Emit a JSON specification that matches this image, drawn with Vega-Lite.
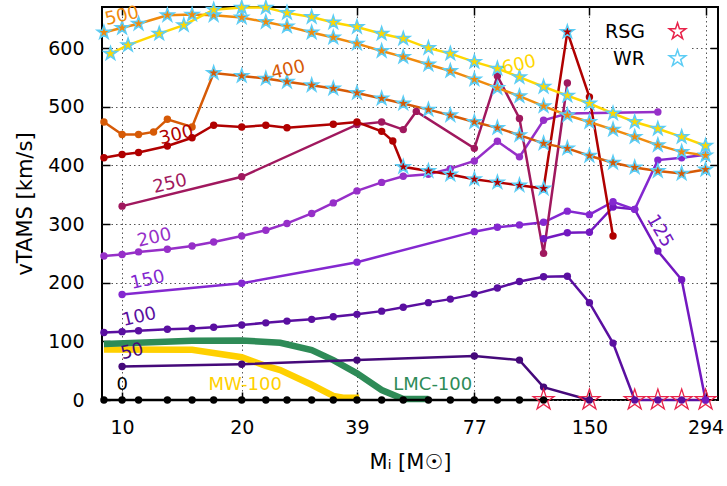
{
 "$schema": "https://vega.github.io/schema/vega-lite/v6.json",
 "width": 616, "height": 393,
 "autosize": {"type": "none"},
 "padding": {"left": 102, "top": 7, "right": 9, "bottom": 86},
 "config": {
  "font": "DejaVu Sans",
  "view": {"stroke": "#000", "strokeWidth": 2},
  "axis": {"labelFontSize": 19, "labelColor": "#000", "titleFontSize": 21, "titleFontWeight": "normal", "titleColor": "#000",
           "gridDash": [1.5, 3], "gridColor": "#555", "gridWidth": 1, "tickSize": -8, "tickColor": "#000", "tickWidth": 1.5, "domain": false, "labelPadding": 26}
 },
 "datasets": {
  "pts": [
   {"s":"0","m":9,"v":0},{"s":"0","m":10,"v":0},{"s":"0","m":11,"v":0},{"s":"0","m":13,"v":0},{"s":"0","m":15,"v":0},{"s":"0","m":17,"v":0},{"s":"0","m":20,"v":0},{"s":"0","m":23,"v":0},{"s":"0","m":26,"v":0},{"s":"0","m":30,"v":0},{"s":"0","m":34,"v":0},{"s":"0","m":39,"v":0},{"s":"0","m":45,"v":0},{"s":"0","m":51,"v":0},{"s":"0","m":59,"v":0},{"s":"0","m":67,"v":0},{"s":"0","m":77,"v":0},{"s":"0","m":88,"v":0},{"s":"0","m":100,"v":0},{"s":"0","m":115,"v":0,"t":"RSG"},
   {"s":"50","m":10,"v":57},{"s":"50","m":20,"v":61},{"s":"50","m":39,"v":68},{"s":"50","m":77,"v":75},{"s":"50","m":100,"v":68},{"s":"50","m":115,"v":22},{"s":"50","m":150,"v":0,"t":"RSG"},
   {"s":"100","m":9,"v":115},{"s":"100","m":10,"v":116.5},{"s":"100","m":11,"v":118},{"s":"100","m":13,"v":120.5},{"s":"100","m":15,"v":122},{"s":"100","m":17,"v":124},{"s":"100","m":20,"v":128},{"s":"100","m":23,"v":131.5},{"s":"100","m":26,"v":134.5},{"s":"100","m":30,"v":137.5},{"s":"100","m":34,"v":142},{"s":"100","m":39,"v":146},{"s":"100","m":45,"v":151.5},{"s":"100","m":51,"v":158},{"s":"100","m":59,"v":166},{"s":"100","m":67,"v":172},{"s":"100","m":77,"v":180.5},{"s":"100","m":88,"v":191},{"s":"100","m":100,"v":202},{"s":"100","m":115,"v":210},{"s":"100","m":132,"v":211},{"s":"100","m":150,"v":166},{"s":"100","m":172,"v":97},{"s":"100","m":195,"v":0,"t":"RSG"},{"s":"100","m":223,"v":0,"t":"RSG"},{"s":"100","m":256,"v":0,"t":"RSG"},{"s":"100","m":294,"v":0,"t":"RSG"},
   {"s":"125","m":115,"v":275},{"s":"125","m":132,"v":285},{"s":"125","m":150,"v":286},{"s":"125","m":172,"v":329},{"s":"125","m":195,"v":325},{"s":"125","m":223,"v":254},{"s":"125","m":256,"v":205},{"s":"125","m":294,"v":0},
   {"s":"150","m":10,"v":180},{"s":"150","m":20,"v":199},{"s":"150","m":39,"v":235},{"s":"150","m":77,"v":287},{"s":"150","m":88,"v":294.5},{"s":"150","m":100,"v":298.5},{"s":"150","m":115,"v":303},{"s":"150","m":132,"v":322},{"s":"150","m":150,"v":316},{"s":"150","m":172,"v":338},{"s":"150","m":195,"v":325},{"s":"150","m":223,"v":409},{"s":"150","m":256,"v":413},{"s":"150","m":294,"v":418},
   {"s":"200","m":9,"v":245.5},{"s":"200","m":10,"v":248},{"s":"200","m":11,"v":252.5},{"s":"200","m":13,"v":257},{"s":"200","m":15,"v":262.5},{"s":"200","m":17,"v":269.5},{"s":"200","m":20,"v":279.5},{"s":"200","m":23,"v":289.5},{"s":"200","m":26,"v":301},{"s":"200","m":30,"v":318},{"s":"200","m":34,"v":336},{"s":"200","m":39,"v":356.5},{"s":"200","m":45,"v":371},{"s":"200","m":51,"v":381.5},{"s":"200","m":59,"v":385},{"s":"200","m":67,"v":394.5},{"s":"200","m":77,"v":407.5},{"s":"200","m":88,"v":441},{"s":"200","m":100,"v":414.5},{"s":"200","m":115,"v":477},{"s":"200","m":132,"v":488.5},{"s":"200","m":223,"v":491},
   {"s":"250","m":10,"v":330.5},{"s":"250","m":20,"v":380.5},{"s":"250","m":39,"v":469.5},{"s":"250","m":45,"v":474},{"s":"250","m":51,"v":461},{"s":"250","m":55,"v":492},{"s":"250","m":77,"v":429},{"s":"250","m":88,"v":552.5},{"s":"250","m":100,"v":480},{"s":"250","m":115,"v":250},{"s":"250","m":132,"v":540.5},
   {"s":"300","m":9,"v":413},{"s":"300","m":10,"v":418.5},{"s":"300","m":11,"v":422},{"s":"300","m":13,"v":433},{"s":"300","m":15,"v":447},{"s":"300","m":17,"v":468.5},{"s":"300","m":20,"v":465.5},{"s":"300","m":23,"v":468.5},{"s":"300","m":26,"v":464},{"s":"300","m":34,"v":470},{"s":"300","m":39,"v":474},{"s":"300","m":45,"v":458},{"s":"300","m":48,"v":441.5},{"s":"300","m":51,"v":397.5,"t":"WR"},{"s":"300","m":59,"v":390.5,"t":"WR"},{"s":"300","m":67,"v":384.5,"t":"WR"},{"s":"300","m":77,"v":376.5,"t":"WR"},{"s":"300","m":88,"v":371,"t":"WR"},{"s":"300","m":100,"v":366,"t":"WR"},{"s":"300","m":115,"v":360.5,"t":"WR"},{"s":"300","m":132,"v":627.5,"t":"WR"},{"s":"300","m":150,"v":516.5},{"s":"300","m":172,"v":279.5},
   {"s":"400","m":9,"v":474},{"s":"400","m":10,"v":452.5},{"s":"400","m":11,"v":452.5},{"s":"400","m":12,"v":457},{"s":"400","m":13,"v":478.5},{"s":"400","m":15,"v":465.5},{"s":"400","m":17,"v":557.5,"t":"WR"},{"s":"400","m":20,"v":552.5,"t":"WR"},{"s":"400","m":23,"v":548,"t":"WR"},{"s":"400","m":26,"v":542.5,"t":"WR"},{"s":"400","m":30,"v":536.5,"t":"WR"},{"s":"400","m":34,"v":531,"t":"WR"},{"s":"400","m":39,"v":523.5,"t":"WR"},{"s":"400","m":45,"v":514,"t":"WR"},{"s":"400","m":51,"v":505.5,"t":"WR"},{"s":"400","m":59,"v":495,"t":"WR"},{"s":"400","m":67,"v":485.5,"t":"WR"},{"s":"400","m":77,"v":474,"t":"WR"},{"s":"400","m":88,"v":464,"t":"WR"},{"s":"400","m":100,"v":451.5,"t":"WR"},{"s":"400","m":115,"v":437.5,"t":"WR"},{"s":"400","m":132,"v":429,"t":"WR"},{"s":"400","m":150,"v":416.5,"t":"WR"},{"s":"400","m":172,"v":404.5,"t":"WR"},{"s":"400","m":195,"v":396.5,"t":"WR"},{"s":"400","m":223,"v":390.5,"t":"WR"},{"s":"400","m":256,"v":386,"t":"WR"},{"s":"400","m":294,"v":393,"t":"WR"},
   {"s":"500","m":9,"v":626.5,"t":"WR"},{"s":"500","m":10,"v":634.5,"t":"WR"},{"s":"500","m":11,"v":641.5,"t":"WR"},{"s":"500","m":13,"v":656,"t":"WR"},{"s":"500","m":15,"v":657,"t":"WR"},{"s":"500","m":17,"v":656,"t":"WR"},{"s":"500","m":20,"v":652,"t":"WR"},{"s":"500","m":23,"v":644.5,"t":"WR"},{"s":"500","m":26,"v":637,"t":"WR"},{"s":"500","m":30,"v":626.5,"t":"WR"},{"s":"500","m":34,"v":618,"t":"WR"},{"s":"500","m":39,"v":607.5,"t":"WR"},{"s":"500","m":45,"v":595,"t":"WR"},{"s":"500","m":51,"v":585,"t":"WR"},{"s":"500","m":59,"v":572,"t":"WR"},{"s":"500","m":67,"v":561,"t":"WR"},{"s":"500","m":77,"v":546.5,"t":"WR"},{"s":"500","m":88,"v":532,"t":"WR"},{"s":"500","m":100,"v":518,"t":"WR"},{"s":"500","m":115,"v":501,"t":"WR"},{"s":"500","m":132,"v":485.5,"t":"WR"},{"s":"500","m":150,"v":474,"t":"WR"},{"s":"500","m":172,"v":461,"t":"WR"},{"s":"500","m":195,"v":448.5,"t":"WR"},{"s":"500","m":223,"v":434.5,"t":"WR"},{"s":"500","m":256,"v":423,"t":"WR"},{"s":"500","m":294,"v":417,"t":"WR"},
   {"s":"600","m":9.35,"v":590.5,"t":"WR"},{"s":"600","m":10.35,"v":605,"t":"WR"},{"s":"600","m":12.4,"v":624.5,"t":"WR"},{"s":"600","m":14.3,"v":639,"t":"WR"},{"s":"600","m":17,"v":665.5,"t":"WR"},{"s":"600","m":20,"v":669,"t":"WR"},{"s":"600","m":23,"v":669,"t":"WR"},{"s":"600","m":26,"v":660,"t":"WR"},{"s":"600","m":30,"v":653,"t":"WR"},{"s":"600","m":34,"v":643.5,"t":"WR"},{"s":"600","m":39,"v":636,"t":"WR"},{"s":"600","m":45,"v":624.5,"t":"WR"},{"s":"600","m":51,"v":616,"t":"WR"},{"s":"600","m":59,"v":600,"t":"WR"},{"s":"600","m":67,"v":590.5,"t":"WR"},{"s":"600","m":77,"v":576.5,"t":"WR"},{"s":"600","m":88,"v":565,"t":"WR"},{"s":"600","m":100,"v":550.5,"t":"WR"},{"s":"600","m":115,"v":534,"t":"WR"},{"s":"600","m":132,"v":519,"t":"WR"},{"s":"600","m":150,"v":505.5,"t":"WR"},{"s":"600","m":172,"v":488.5,"t":"WR"},{"s":"600","m":195,"v":474,"t":"WR"},{"s":"600","m":223,"v":462.5,"t":"WR"},{"s":"600","m":256,"v":448.5,"t":"WR"},{"s":"600","m":294,"v":433.5,"t":"WR"}
  ],
  "env": [
   {"s":"MW-100","m":9,"v":86},{"s":"MW-100","m":15,"v":85.5},{"s":"MW-100","m":20,"v":73},{"s":"MW-100","m":23,"v":58},{"s":"MW-100","m":25,"v":51},{"s":"MW-100","m":30,"v":26},{"s":"MW-100","m":34,"v":7},{"s":"MW-100","m":36,"v":4},{"s":"MW-100","m":39.5,"v":4},
   {"s":"LMC-100","m":9,"v":95.5},{"s":"LMC-100","m":15,"v":101},{"s":"LMC-100","m":20,"v":101.5},{"s":"LMC-100","m":25,"v":97.5},{"s":"LMC-100","m":30,"v":85},{"s":"LMC-100","m":34,"v":68},{"s":"LMC-100","m":39,"v":45.5},{"s":"LMC-100","m":45,"v":17},{"s":"LMC-100","m":51,"v":1.5},{"s":"LMC-100","m":59,"v":1.5}
  ],
  "labels": [
   {"s":"500","m":10,"v":654},{"s":"400","m":26.2,"v":562},{"s":"300","m":13.7,"v":451},{"s":"250","m":13.2,"v":368},{"s":"200","m":12.06,"v":276},{"s":"150","m":11.6,"v":204},{"s":"100","m":11.05,"v":141},{"s":"50","m":10.6,"v":82},{"s":"0","m":10,"v":25.5},{"s":"600","m":99.8,"v":570.7},{"s":"125","m":225,"v":288},{"s":"MW-100","m":20.4,"v":26.4},{"s":"LMC-100","m":60.5,"v":26.4}
  ]
 },
 "layer": [
  {
   "encoding": {
    "x": {"field": "m", "type": "quantitative", "scale": {"type": "log", "domain": [8.9, 316], "nice": false},
          "axis": {"values": [10, 20, 39, 77, 150, 294], "title": "Mᵢ [M☉]", "grid": true, "titlePadding": 14}},
    "y": {"field": "v", "type": "quantitative", "scale": {"domain": [0, 670], "nice": false, "zero": false},
          "axis": {"values": [0, 100, 200, 300, 400, 500, 600], "title": "vTAMS [km/s]", "grid": true, "titlePadding": 12}},
    "color": {"field": "s", "type": "nominal", "legend": null,
              "scale": {"domain": ["0","50","100","125","150","200","250","300","400","500","600","MW-100","LMC-100"],
                        "range": ["#000000","#45097a","#5a0fa0","#7318c0","#8428d0","#962fc8","#a0185e","#b00000","#d65a06","#f08a0c","#ffd700","#ffd000","#2e8b57"]}}
   },
   "layer": [
    {
     "data": {"name": "env"},
     "mark": {"type": "line", "strokeWidth": 6.5, "strokeCap": "butt"},
     "encoding": {}
    },
    {
     "data": {"name": "pts"},
     "mark": {"type": "line", "strokeWidth": 2.5},
     "encoding": {}
    },
    {
     "data": {"name": "pts"},
     "transform": [{"filter": "datum.t !== 'WR'"}],
     "mark": {"type": "point", "shape": "circle", "filled": true, "size": 55, "opacity": 1},
     "encoding": {}
    },
    {
     "data": {"name": "pts"},
     "transform": [{"filter": "datum.t === 'WR'"}],
     "mark": {"type": "point", "shape": "M0,-1L0.2245,-0.309L0.951,-0.309L0.363,0.118L0.588,0.809L0,0.382L-0.588,0.809L-0.363,0.118L-0.951,-0.309L-0.2245,-0.309Z", "filled": true, "size": 200, "strokeWidth": 1.5, "opacity": 1},
     "encoding": {
      "stroke": {"field": "t", "type": "nominal", "scale": {"domain": ["RSG", "WR"], "range": ["#e8234a", "#5ccdf5"]},
                 "legend": {"title": null, "orient": "none", "legendX": 522, "legendY": 15, "padding": 0,
                            "symbolType": "M0,-1L0.2245,-0.309L0.951,-0.309L0.363,0.118L0.588,0.809L0,0.382L-0.588,0.809L-0.363,0.118L-0.951,-0.309L-0.2245,-0.309Z",
                            "symbolSize": 300, "symbolStrokeWidth": 1.5, "symbolFillColor": "transparent",
                            "labelFontSize": 19, "labelColor": "#000", "labelAlign": "right", "labelOffset": -42, "symbolOffset": 44,
                            "rowPadding": 4, "fillColor": "white",
                            "encode": {"symbols": {"update": {"fill": {"value": "transparent"}, "size": {"signal": "datum.value === 'RSG' ? 480 : 220"}}}}}}
     }
    },
    {
     "data": {"name": "pts"},
     "transform": [{"filter": "datum.t === 'RSG'"}],
     "mark": {"type": "point", "shape": "M0,-1L0.2245,-0.309L0.951,-0.309L0.363,0.118L0.588,0.809L0,0.382L-0.588,0.809L-0.363,0.118L-0.951,-0.309L-0.2245,-0.309Z", "filled": false, "size": 480, "strokeWidth": 1.3, "opacity": 1},
     "encoding": {
      "stroke": {"field": "t", "type": "nominal"}
     }
    },
    {
     "data": {"name": "labels"},
     "transform": [{"filter": {"not": {"field": "s", "oneOf": ["0", "MW-100", "LMC-100", "125"]}}}],
     "mark": {"type": "text", "fontSize": 18, "angle": 347, "align": "center", "baseline": "middle"},
     "encoding": {"text": {"field": "s"}}
    },
    {
     "data": {"name": "labels"},
     "transform": [{"filter": {"field": "s", "oneOf": ["0", "MW-100", "LMC-100"]}}],
     "mark": {"type": "text", "fontSize": 18, "align": "center", "baseline": "middle"},
     "encoding": {"text": {"field": "s"}}
    },
    {
     "data": {"name": "labels"},
     "transform": [{"filter": {"field": "s", "oneOf": ["125"]}}],
     "mark": {"type": "text", "fontSize": 18, "angle": 60, "align": "center", "baseline": "middle"},
     "encoding": {"text": {"field": "s"}}
    }
   ]
  },
  {
   "data": {"name": "labels"},
   "mark": {"type": "point", "opacity": 0},
   "encoding": {
    "x": {"field": "m", "type": "quantitative", "axis": {"orient": "top", "values": [10, 20, 39, 77, 150, 294], "labels": false, "title": null, "grid": false}},
    "y": {"field": "v", "type": "quantitative", "axis": {"orient": "right", "values": [100, 200, 300, 400, 500, 600], "labels": false, "title": null, "grid": false}}
   }
  }
 ],
 "resolve": {"axis": {"x": "independent", "y": "independent"}}
}
